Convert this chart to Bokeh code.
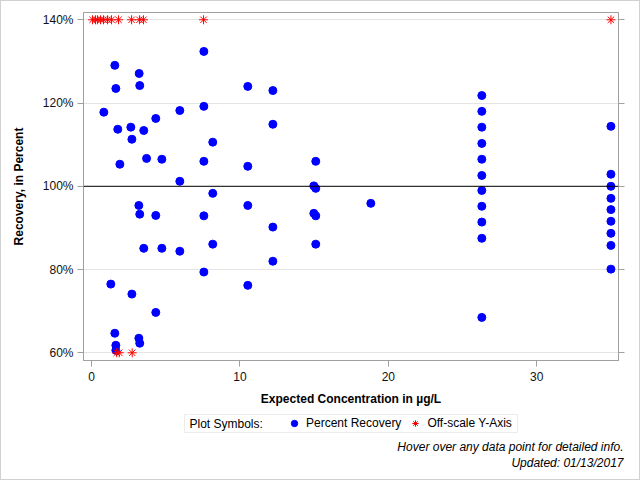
from bokeh.plotting import figure
from bokeh.layouts import column
from bokeh.models import (Range1d, LinearAxis, Span, Label, Legend, LegendItem,
                          BoxAnnotation, PrintfTickFormatter, CustomJSTickFormatter,
                          FixedTicker)
from bokeh.embed import file_html
from bokeh.resources import INLINE

# ---- data ----
conc = [0.83, 1.57, 1.64, 1.77, 1.91, 2.65, 2.72, 3.21, 3.25, 3.52, 3.71, 4.33, 4.74,
        5.95, 5.95, 7.57, 7.57, 7.57, 8.17, 8.17, 10.53, 12.22, 12.22, 10.53, 15.11,
        14.98, 15.11, 10.53, 7.57, 8.17, 12.22, 12.22, 14.98, 15.11, 15.11, 18.82,
        7.57, 10.53, 3.19, 3.25, 4.33, 3.52, 4.74, 5.95, 1.30, 2.72, 4.33, 1.57, 1.64,
        1.64, 3.19, 3.25,
        26.3, 26.3, 26.3, 26.3, 26.3, 26.3, 26.3, 26.3, 26.3, 26.3, 26.3,
        35.0, 35.0, 35.0, 35.0, 35.0, 35.0, 35.0, 35.0, 35.0]
recovery = [117.8, 129.05, 123.5, 113.7, 105.3, 114.2, 111.3, 127.1, 124.2, 113.4, 106.7,
            116.3, 106.5, 118.2, 101.2, 132.4, 119.2, 106.0, 110.6, 98.3, 124.0, 123.0,
            114.9, 104.8, 106.0, 100.1, 99.5, 95.4, 92.9, 86.1, 90.2, 82.0, 93.5, 92.9,
            86.1, 95.9, 79.4, 76.2, 95.4, 93.3, 93.0, 85.1, 85.1, 84.4, 76.5, 74.1, 69.7,
            64.7, 61.8, 60.6, 63.5, 62.3,
            121.8, 118.0, 114.2, 110.3, 106.5, 102.6, 99.0, 95.2, 91.4, 87.5, 68.5,
            114.4, 102.9, 100.0, 97.1, 94.4, 91.6, 88.7, 85.8, 80.1]

off_conc = [0.07, 0.27, 0.40, 0.61, 0.81, 1.08, 1.35, 1.82, 2.70, 3.23, 3.50, 7.55, 35.0,
            1.70, 1.87, 2.74]
off_recovery = [140, 140, 140, 140, 140, 140, 140, 140, 140, 140, 140, 140, 140,
                60, 60, 60]

y_ticks = [60, 80, 100, 120, 140]
x_ticks = [0, 10, 20, 30]

FONT = "Liberation Sans"
GRAY = "#a0a0a0"
BLUE = "#0000ff"
RED = "#ff0000"

# ---------------- main chart ----------------
p = figure(width=638, height=410, output_backend="svg", toolbar_location=None,
           x_range=Range1d(-0.54, 35.51), y_range=Range1d(58.15, 141.75),
           min_border_left=82, min_border_right=21, min_border_top=11,
           min_border_bottom=51)
p.outline_line_color = GRAY
p.background_fill_color = "white"
p.border_fill_color = "white"

p.xgrid.visible = False
p.ygrid.ticker = FixedTicker(ticks=y_ticks)
p.ygrid.grid_line_color = "#e4e4e4"

for ax in (p.xaxis[0], p.yaxis[0]):
    ax.axis_line_color = GRAY
    ax.major_tick_line_color = GRAY
    ax.major_tick_out = 6
    ax.major_tick_in = 0
    ax.minor_tick_line_color = None
    ax.major_label_text_font = FONT
    ax.major_label_text_font_size = "12px"
    ax.major_label_text_color = "#111111"
    ax.axis_label_text_font = FONT
    ax.axis_label_text_font_size = "12px"
    ax.axis_label_text_font_style = "bold"
    ax.axis_label_text_color = "black"

p.xaxis.ticker = FixedTicker(ticks=x_ticks)
p.xaxis.axis_label = "Expected Concentration in µg/L"
p.xaxis.major_label_standoff = 5
p.xaxis.axis_label_standoff = 8

p.yaxis.ticker = FixedTicker(ticks=y_ticks)
p.yaxis.formatter = PrintfTickFormatter(format="%d%%")
p.yaxis.axis_label = "Recovery, in Percent"
p.yaxis.major_label_standoff = 4
p.yaxis.axis_label_standoff = 14

right = LinearAxis(ticker=FixedTicker(ticks=y_ticks),
                   formatter=CustomJSTickFormatter(code="return ''"),
                   axis_line_color=GRAY, major_tick_line_color=GRAY,
                   major_tick_out=6, major_tick_in=0, minor_tick_line_color=None,
                   major_label_text_font_size="0px")
p.add_layout(right, "right")

p.add_layout(Span(location=100, dimension="width", line_color="black", line_width=1))

p.scatter(conc, recovery, marker="circle", size=8, fill_color=BLUE, line_color=BLUE)
p.scatter(off_conc, off_recovery, marker="asterisk", size=9, line_color=RED, line_width=1)

# ---------------- legend / footer strip ----------------
q = figure(width=638, height=68, output_backend="svg", toolbar_location=None,
           x_axis_type=None, y_axis_type=None, x_range=Range1d(0, 1), y_range=Range1d(0, 1),
           min_border=0, min_border_left=0, min_border_right=0,
           min_border_top=0, min_border_bottom=0)
q.outline_line_color = None
q.xgrid.visible = False
q.ygrid.visible = False
q.background_fill_color = "white"
q.border_fill_color = "white"

# legend sample renderers (their single point lies outside this strip's ranges)
lg_pr = q.scatter(conc[:1], recovery[:1], marker="circle", fill_color=BLUE, line_color=BLUE)
lg_off = q.scatter(off_conc[:1], off_recovery[:1], marker="asterisk", line_color=RED,
                   line_width=1)

q.add_layout(BoxAnnotation(left=183, right=516, bottom=47, top=65,
                           left_units="screen", right_units="screen",
                           bottom_units="screen", top_units="screen",
                           fill_alpha=0, line_color="#c0c0c0", line_width=1))
q.add_layout(Label(x=188, y=56, x_units="screen", y_units="screen",
                   text="Plot Symbols:", text_align="left", text_baseline="middle",
                   text_font=FONT, text_font_size="12px", text_color="black"))
legend = Legend(items=[LegendItem(label="Percent Recovery", renderers=[lg_pr]),
                       LegendItem(label="Off-scale Y-Axis", renderers=[lg_off])],
                orientation="horizontal", location=(285, 48),
                label_text_font=FONT, label_text_font_size="12px",
                label_text_color="black",
                glyph_width=16, glyph_height=16, label_height=16,
                label_standoff=4, spacing=6, padding=0, margin=0,
                border_line_color=None, background_fill_alpha=0)
q.add_layout(legend)

q.add_layout(Label(x=622, y=33, x_units="screen", y_units="screen",
                   text="Hover over any data point for detailed info.",
                   text_align="right", text_baseline="middle", text_font=FONT,
                   text_font_size="12px", text_font_style="italic", text_color="black"))
q.add_layout(Label(x=622, y=17, x_units="screen", y_units="screen",
                   text="Updated: 01/13/2017",
                   text_align="right", text_baseline="middle", text_font=FONT,
                   text_font_size="12px", text_font_style="italic", text_color="black"))

layout = column(p, column(q, spacing=0), spacing=0,
                styles={"border": "1px solid #d0d0d0"})

open("out.html", "w").write(file_html(layout, INLINE))
